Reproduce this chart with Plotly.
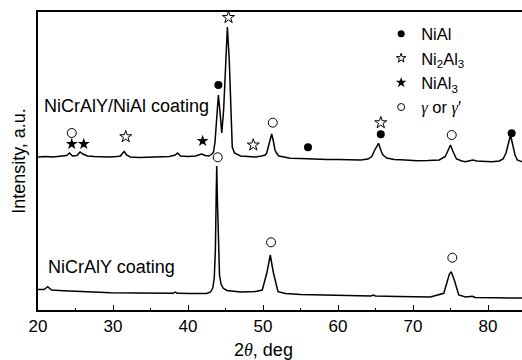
import plotly.graph_objects as go

# ---------------- data ----------------
# Upper pattern: NiCrAlY/NiAl coating
upper_2theta = [20.0, 21.0, 22.0, 23.0, 23.8, 24.2, 24.6, 25.2, 25.6, 26.0, 26.6, 27.5, 28.5,
                29.5, 30.5, 31.0, 31.3, 31.5, 31.8, 32.3, 33.5, 35.0, 36.5, 37.5, 38.3, 38.6,
                39.0, 40.0, 41.0, 41.5, 41.8, 42.3, 42.8, 43.2, 43.4, 43.6, 43.8, 44.05, 44.3,
                44.5, 44.75, 45.0, 45.25, 45.5, 45.7, 45.9, 46.2, 47.0, 48.0, 49.0, 49.8, 50.3,
                50.5, 50.7, 50.95, 51.15, 51.35, 51.6, 51.8, 52.1, 52.8, 53.6, 55.0, 56.0, 57.0,
                58.5, 60.0, 61.7, 63.0, 64.0, 64.5, 64.9, 65.4, 65.8, 66.0, 66.5, 67.5, 69.0,
                70.5, 72.0, 73.5, 74.3, 74.7, 75.0, 75.3, 75.8, 76.5, 77.0, 77.7, 78.0, 78.5,
                79.5, 80.5, 81.5, 82.0, 82.4, 82.7, 83.0, 83.3, 83.6, 83.9, 84.6]
upper_intensity = [153, 153.5, 153, 154, 154.5, 157, 154, 154.5, 158, 156, 154, 153.5, 153,
                   153, 153.5, 154, 157, 158.5, 155, 153, 152.5, 153, 153, 153.5, 155, 157,
                   154, 153.5, 154, 155.5, 156, 154.5, 154, 156, 158, 168, 190, 215, 195,
                   177, 200, 250, 283, 250, 195, 163, 157, 154, 153.5, 153, 154, 155,
                   157, 163, 172, 176, 170, 160, 157, 154, 153, 151.7, 151.5, 151, 151,
                   150.5, 150.5, 150, 150, 151, 153.5, 160, 166.7, 158, 155, 152, 150.5, 150,
                   149.3, 149.5, 150, 153.5, 160, 165, 159, 151, 149, 148.3, 149.5, 150, 149,
                   148.5, 148.3, 149, 151, 157, 166, 175, 165, 155, 150, 148]

# Lower pattern: NiCrAlY coating
lower_2theta = [20.0, 20.8, 21.3, 21.8, 23.4, 26.5, 29.7, 33.0, 36.0, 38.0, 38.3, 38.6, 40.3,
                42.5, 43.0, 43.3, 43.5, 43.65, 43.75, 43.83, 43.92, 44.05, 44.2, 44.4, 44.7,
                45.2, 46.0, 47.0, 49.0, 49.9, 50.5, 50.75, 50.97, 51.2, 51.4, 52.0, 53.0, 55.0,
                57.2, 60.0, 64.4, 64.7, 65.0, 68.0, 72.3, 74.1, 74.6, 74.85, 75.1, 75.3, 75.5,
                76.1, 77.0, 77.9, 78.3, 81.0, 84.6]
lower_intensity = [20.5, 20.5, 23.3, 20, 19.3, 18, 17.3, 17, 16.8, 16.7, 17.8, 16.7, 16.5,
                   16.5, 18, 22, 32, 60, 110, 144, 110, 60, 35, 26, 21.7,
                   19.5, 18.5, 18, 18.5, 20, 36.7, 48, 55, 45, 36.7, 18.3, 16.5, 15.5,
                   15, 14.5, 14, 15, 14, 13.5, 13, 16.7, 30, 36, 38.3, 35, 30,
                   15, 13, 13.8, 12.5, 12.2, 12]

# Phase markers
nial_x = [44.05, 56.0, 65.7, 83.15]
nial_y = [225, 162.7, 175.7, 176.7]
ni2al3_x = [31.7, 45.4, 48.7, 65.7]
ni2al3_y = [173.3, 292.5, 165, 187.3]
nial3_x = [24.5, 26.1, 41.95]
nial3_y = [166, 166, 169]
gamma_x = [24.5, 51.3, 75.16, 43.96, 51.07, 75.24]
gamma_y = [177, 187.3, 175, 152.7, 67.7, 52.3]

legend_names = ["NiAl", "Ni<sub>2</sub>Al<sub>3</sub>", "NiAl<sub>3</sub>",
                "<span style='font-family:Liberation Serif'><i>γ</i></span> or "
                "<span style='font-family:Liberation Serif'><i>γ</i></span>′"]

x_ticks = [20, 30, 40, 50, 60, 70, 80]

FONT = "Liberation Sans, Arial, sans-serif"

fig = go.Figure()

fig.add_trace(go.Scatter(x=upper_2theta, y=upper_intensity, mode="lines",
                         line=dict(color="black", width=1.5), showlegend=False))
fig.add_trace(go.Scatter(x=lower_2theta, y=lower_intensity, mode="lines",
                         line=dict(color="black", width=1.5), showlegend=False))

marker_specs = [
    (nial_x, nial_y, dict(symbol="circle", size=8, color="black")),
    (ni2al3_x, ni2al3_y, dict(symbol="star-open", size=9, color="black", line=dict(width=1, color="black"))),
    (nial3_x, nial3_y, dict(symbol="star", size=9, color="black")),
    (gamma_x, gamma_y, dict(symbol="circle-open", size=9, color="black", line=dict(width=1, color="black"))),
]
legend_specs = [
    dict(symbol="circle", size=7, color="black"),
    dict(symbol="star-open", size=7, color="black", line=dict(width=1, color="black")),
    dict(symbol="star", size=8, color="black"),
    dict(symbol="circle-open", size=7, color="black", line=dict(width=1, color="black")),
]
for (xs, ys, mk) in marker_specs:
    fig.add_trace(go.Scatter(x=xs, y=ys, mode="markers", marker=mk, showlegend=False,
                             cliponaxis=False))
for name, mk in zip(legend_names, legend_specs):
    fig.add_trace(go.Scatter(x=[None], y=[None], mode="markers", marker=mk, name=name,
                             showlegend=True))

fig.add_annotation(x=20.56, y=204, xref="x", yref="y", text="NiCrAlY/NiAl coating",
                   showarrow=False, xanchor="left", yanchor="middle",
                   font=dict(size=18, color="black", family=FONT))
fig.add_annotation(x=21.0, y=43, xref="x", yref="y", text="NiCrAlY coating",
                   showarrow=False, xanchor="left", yanchor="middle",
                   font=dict(size=18, color="black", family=FONT))
fig.add_annotation(x=0.465, y=-0.134, xref="paper", yref="paper",
                   text="2<span style='font-family:Liberation Serif'><i>θ</i></span>, deg",
                   showarrow=False, xanchor="center", yanchor="middle",
                   font=dict(size=18, color="black", family=FONT))

fig.update_layout(
    width=522, height=360,
    margin=dict(l=38, r=0, t=12, b=50),
    paper_bgcolor="white", plot_bgcolor="white",
    font=dict(family=FONT, color="black"),
    legend=dict(x=0.709, y=0.985, xanchor="left", yanchor="top",
                bgcolor="rgba(0,0,0,0)", font=dict(size=16.5, color="black", family=FONT),
                borderwidth=0),
    xaxis=dict(range=[20, 84.53], tickvals=x_ticks, ticktext=[str(v) for v in x_ticks],
               ticks="inside", ticklen=5, tickwidth=1.2, tickcolor="black",
               minor=dict(ticks="inside", ticklen=2, dtick=5, tickcolor="black"),
               showline=True, linecolor="black", linewidth=1.5, mirror=True,
               showgrid=False, zeroline=False,
               tickfont=dict(size=17, color="black", family=FONT)),
    yaxis=dict(range=[0, 298], showticklabels=False, ticks="",
               showline=True, linecolor="black", linewidth=1.5, mirror=False,
               showgrid=False, zeroline=False,
               title=dict(text="Intensity, a.u.", standoff=6,
                          font=dict(size=18, color="black", family=FONT))),
)

fig.write_html("out.html", config={"displayModeBar": False},
               post_script="document.body.style.margin='0';document.body.style.overflow='hidden';")
